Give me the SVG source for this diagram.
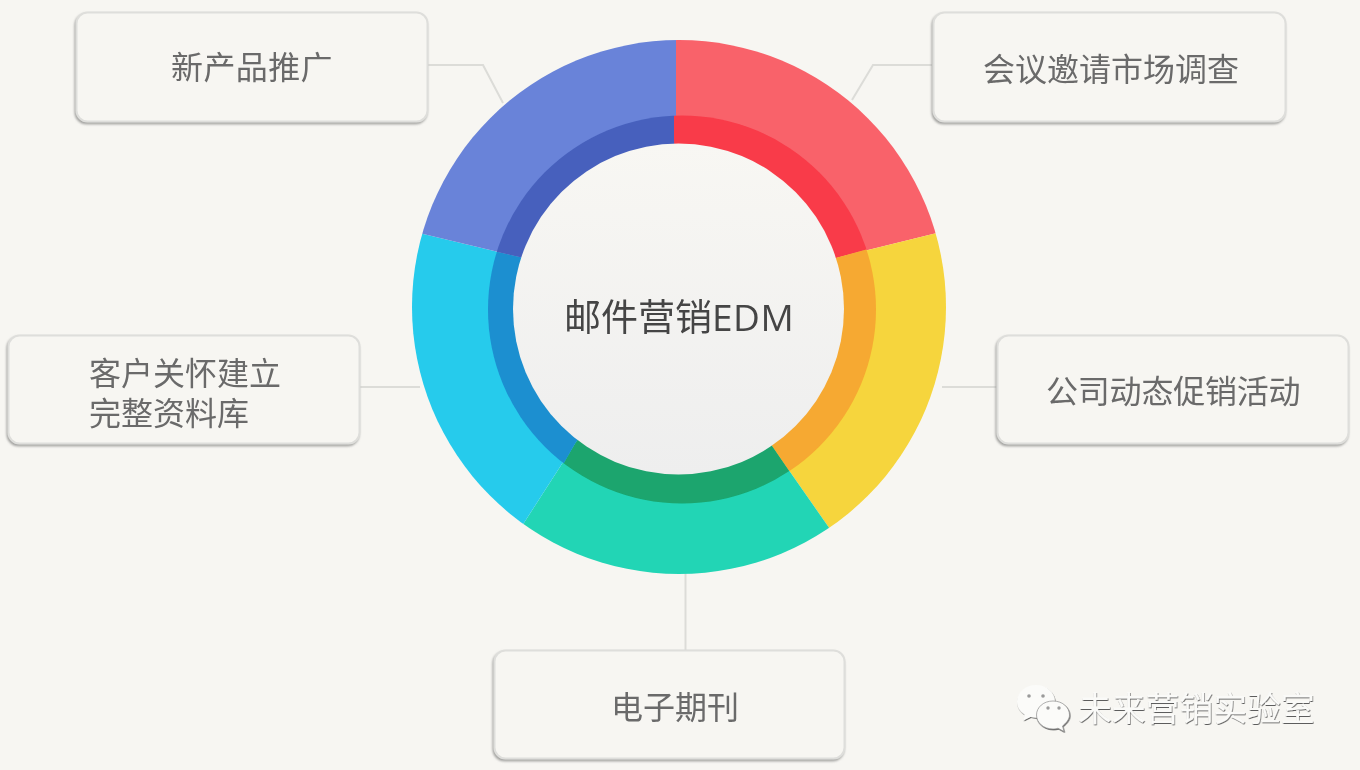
<svg xmlns="http://www.w3.org/2000/svg" width="1360" height="770" viewBox="0 0 1360 770">
<style>
.box{fill:#f7f6f2;stroke:#dededb;stroke-width:2;filter:url(#boxShadow)}
.label{font-family:"Noto Sans CJK SC","Noto Sans",sans-serif;font-size:32px;fill:#6a6a6a;filter:url(#soft)}
.conn{fill:none;stroke:#dcdcd8;stroke-width:2}
.mark{font-family:"Noto Sans CJK SC","Noto Sans",sans-serif;font-size:33.8px;fill:#fafaf8}
</style>
<defs>
<filter id="soft" x="-5%" y="-10%" width="110%" height="120%"><feGaussianBlur stdDeviation="0.5"/></filter>
<filter id="ringSoft" x="-3%" y="-3%" width="106%" height="106%"><feGaussianBlur stdDeviation="0.6"/></filter>
<filter id="boxShadow" x="-3%" y="-5%" width="106%" height="112%"><feDropShadow dx="-1" dy="1.800" stdDeviation="0.8" flood-color="#999997" flood-opacity="0.9"/></filter>
<filter id="emboss" x="-5%" y="-15%" width="110%" height="130%"><feDropShadow dx="0.6" dy="1" stdDeviation="0.5" flood-color="#555" flood-opacity="0.95"/></filter>
<linearGradient id="hub" x1="0" y1="0" x2="0" y2="1"><stop offset="0" stop-color="#f8f7f3"/><stop offset="1" stop-color="#eeeeee"/></linearGradient>
<clipPath id="outerClip"><circle cx="679" cy="307" r="267"/></clipPath>
<clipPath id="darkClip"><circle cx="682" cy="309.5" r="194"/></clipPath>
</defs>
<rect width="1360" height="770" fill="#f7f6f2"/>
<g id="connectors">
<path class="conn" d="M428 65H483L503 103"/>
<path class="conn" d="M932 65H873L852 100"/>
<path class="conn" d="M360 387H420"/>
<path class="conn" d="M997 387H942"/>
<path class="conn" d="M685.500 572V650"/>
</g>
<g id="ring" filter="url(#ringSoft)">
<g clip-path="url(#outerClip)">
<polygon fill="#f9626b" points="679,309 676,140 676,0 1000,0 1000,217.300 837.500,257.500"/>
<polygon fill="#f6d53c" points="679,309 837.500,257.500 1000,217.300 1000,600 879.500,600 772.500,446.800"/>
<polygon fill="#24d5b5" points="679,309 772.500,446.800 879.500,600 477.500,595 575.700,442.500"/>
<polygon fill="#26cbec" points="679,309 575.700,442.500 477.500,595 380,595 380,223.800 519.600,257"/>
<polygon fill="#6983d9" points="679,309 519.600,257 380,223.800 380,0 676,0 676,140"/>
</g>
<g clip-path="url(#darkClip)">
<polygon fill="#f93b49" points="679,309 674,140 674,100 900,100 900,240.200 837.500,257.500"/>
<polygon fill="#f6a930" points="679,309 837.500,257.500 900,240.200 900,520 822.700,520 772.500,446.800"/>
<polygon fill="#1aa56e" points="679,309 772.500,446.800 822.700,520 531,520 575.700,442.500"/>
<polygon fill="#1d8fd0" points="679,309 575.700,442.500 531,520 470,520 470,246 519.600,257"/>
<polygon fill="#4761bd" points="679,309 519.600,257 470,246 470,100 674,100 674,140"/>
</g>
</g>
<g id="hub">
<circle cx="678.500" cy="309" r="165.500" fill="url(#hub)"/>
<text x="564" y="331" font-family="'Noto Sans CJK SC','Noto Sans',sans-serif" font-size="37" fill="#444" filter="url(#soft)">邮件营销<tspan font-family="'Open Sans','Noto Sans',sans-serif" letter-spacing="0.5">EDM</tspan></text>
</g>
<g id="node-new-product">
<rect class="box" x="76.500" y="12.500" width="351" height="109" rx="11"/>
<text class="label" x="171" y="79" letter-spacing="0.4">新产品推广</text>
</g>
<g id="node-meeting">
<rect class="box" x="933.500" y="12.500" width="352" height="109" rx="11"/>
<text class="label" x="983" y="81">会议邀请市场调查</text>
</g>
<g id="node-customer">
<rect class="box" x="8.500" y="335.500" width="351" height="108" rx="11"/>
<text class="label"><tspan x="89" y="385">客户关怀建立</tspan><tspan x="89" y="425">完整资料库</tspan></text>
</g>
<g id="node-news">
<rect class="box" x="997.500" y="335.500" width="351" height="108" rx="11"/>
<text class="label" x="1046" y="403" letter-spacing="-0.2">公司动态促销活动</text>
</g>
<g id="node-journal">
<rect class="box" x="494.500" y="650.500" width="350" height="108" rx="11"/>
<text class="label" x="611" y="719">电子期刊</text>
</g>
<g id="watermark">
<g filter="url(#emboss)">
<path fill="#fbfbf9" d="M1036 685c-10.500 0-19 7.500-19 16.500 0 5.500 3 10 7.500 13l-1 6 7-3.500c2 .5 3.500.7 5.500.7 10.500 0 19-7.200 19-16.200S1046.500 685 1036 685z"/>
<path fill="#fbfbf9" stroke="#8d8d8d" stroke-width="0.7" d="M1053 701c-9.300 0-16.500 6.200-16.500 14s7.200 14 16.500 14c2 0 3.500-.2 5-.8l6 3.300-1.500-5.500c3.300-2.700 7-6.500 7-11 0-7.800-7.200-14-16.500-14z"/>
</g>
<circle cx="1029" cy="696" r="1.800" fill="#9a9a9a"/><circle cx="1043" cy="696" r="1.800" fill="#9a9a9a"/>
<circle cx="1048" cy="708" r="1.700" fill="#9a9a9a"/><circle cx="1059" cy="708" r="1.700" fill="#9a9a9a"/>
<text class="mark" x="1078" y="721" filter="url(#emboss)">未来营销实验室</text>
</g>
</svg>
